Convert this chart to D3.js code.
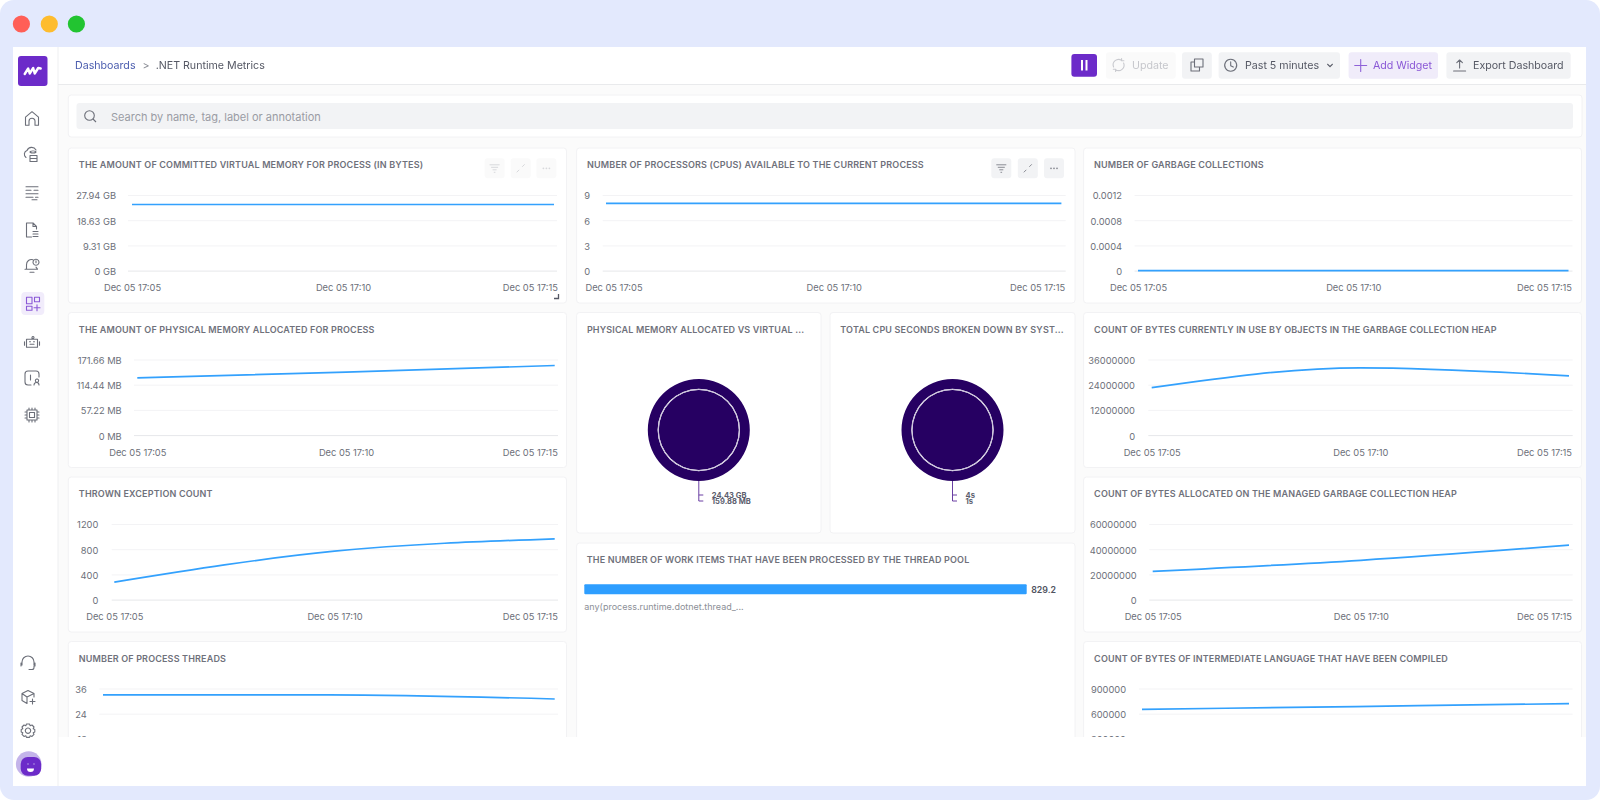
<!DOCTYPE html>
<html>
<head>
<meta charset="utf-8">
<script src="https://cdnjs.cloudflare.com/ajax/libs/d3/7.8.5/d3.min.js"></script>
<style>
html, body { margin: 0; padding: 0; background: #fff; }
svg { display: block; filter: blur(0.4px); }
text { font-family: Inter, "Noto Sans", sans-serif; }
.title { font-size: 9px; font-weight: 600; fill: #6f717b; letter-spacing: 0.16px; }
.tick text { font-size: 9.3px; fill: #6c6f79; }
</style>
</head>
<body>
<div id="chart"></div>
<script>
// values
var times = [new Date(2023, 11, 5, 17, 5), new Date(2023, 11, 5, 17, 10), new Date(2023, 11, 5, 17, 15)];

var virtualMemTicks = [0, 9.31, 18.63, 27.94];
var virtualMemValues = [24.43, 24.43, 24.43];
var cpuTicks = [0, 3, 6, 9];
var cpuValues = [8, 8, 8];
var gcCountTicks = [0, 0.0004, 0.0008, 0.0012];
var gcCountValues = [0, 0, 0];
var physMemTicks = [0, 57.22, 114.44, 171.66];
var physMemValues = [130, 143, 158];
var exceptionTicks = [0, 400, 800, 1200];
var exceptionValues = [277, 768, 965];
var threadTicks = [12, 24, 36];
var threadValues = [33, 33, 31];
var heapUseTicks = [0, 12000000, 24000000, 36000000];
var heapUseValues = [22600000, 32000000, 28200000];
var heapAllocTicks = [0, 20000000, 40000000, 60000000];
var heapAllocValues = [22400000, 31200000, 43200000];
var ilTicks = [300000, 600000, 900000];
var ilValues = [652000, 685000, 720000];

var memPieValues = [24.43, 159.88];
var memPieLabels = ["24.43 GB", "159.88 MB"];
var cpuPieValues = [4, 1];
var cpuPieLabels = ["4s", "1s"];

var threadPoolValue = 829.2;
var threadPoolLabel = "any(process.runtime.dotnet.thread_...";

var width = 1600, height = 802;
var blue = "#33a1fd", purple = "#6c2bc9", iconGrey = "#6c6f79";

var svg = d3.select("#chart").append("svg").attr("width", width).attr("height", height);

// window frame
svg.append("rect").attr("width", width).attr("height", 800).attr("rx", 14).attr("fill", "#e3e9fd");
svg.append("rect").attr("x", 13).attr("y", 47).attr("width", 1573).attr("height", 739).attr("fill", "#fff");
[[21.4, "#ff5f57"], [49.3, "#febc2e"], [76.4, "#22c431"]].forEach(function(d) {
    svg.append("circle").attr("cx", d[0]).attr("cy", 24).attr("r", 8.6).attr("fill", d[1]);
});

var defs = svg.append("defs");
defs.append("clipPath").attr("id", "content-clip").append("rect")
    .attr("x", 58).attr("y", 85).attr("width", 1528).attr("height", 652);

var content = svg.append("g").attr("clip-path", "url(#content-clip)");
content.append("rect").attr("x", 58).attr("y", 85).attr("width", 1528).attr("height", 652).attr("fill", "#fbfbfb");

svg.append("line").attr("x1", 58).attr("x2", 58).attr("y1", 47).attr("y2", 786).attr("stroke", "#eeeff1");
svg.append("line").attr("x1", 58).attr("x2", 1586).attr("y1", 84.5).attr("y2", 84.5).attr("stroke", "#e9eaec");

function card(x0, y0, x1, y1) {
    content.append("rect").attr("x", x0).attr("y", y0).attr("width", x1 - x0).attr("height", y1 - y0)
        .attr("rx", 3).attr("fill", "#fff").attr("stroke", "#f2f2f4");
}

function icon(x, y, d, color, sw) {
    return svg.append("path").attr("transform", "translate(" + x + "," + y + ")").attr("d", d)
        .attr("fill", "none").attr("stroke", color || iconGrey).attr("stroke-width", sw || 1.1)
        .attr("stroke-linecap", "round").attr("stroke-linejoin", "round");
}

function headerText(x, y, str, color, weight) {
    svg.append("text").attr("x", x).attr("y", y).attr("dy", "0.35em").attr("font-size", 10.65)
        .attr("font-weight", weight || 400).attr("fill", color).text(str);
}

// header
headerText(75, 65.7, "Dashboards", "#4a5cae");
headerText(142.5, 65.7, ">", "#8a8d95");
headerText(155.7, 65.7, ".NET Runtime Metrics", "#555864");

function button(x0, x1, y0, y1, fill) {
    svg.append("rect").attr("x", x0).attr("y", y0).attr("width", x1 - x0).attr("height", y1 - y0)
        .attr("rx", 3).attr("fill", fill);
}
button(1071.4, 1097, 54, 76.7, purple);
svg.append("rect").attr("x", 1081).attr("y", 60).attr("width", 2).attr("height", 10.5).attr("fill", "#fff");
svg.append("rect").attr("x", 1085.5).attr("y", 60).attr("width", 2).attr("height", 10.5).attr("fill", "#fff");
button(1106, 1175.7, 52.3, 78.7, "#fafafa");
icon(1118.6, 65, "M-5 2A5.4 5.4 0 0 1 3 -4.6M5 -2A5.4 5.4 0 0 1 -3 4.6M3 -6.5V-4.2H5.3M-3 6.5V4.2H-5.3", "#c9cacf");
headerText(1132, 65.3, "Update", "#c6c7cc");
button(1182, 1211.8, 52.3, 78.7, "#f2f3f5");
icon(1197, 65, "M-2.5 -6H6V2H-2.5ZM-2.5 -3H-6V6H2.5V2", iconGrey);
button(1218.6, 1340, 52.3, 78.7, "#f2f3f5");
icon(1230.7, 65.3, "M0 -6A6 6 0 1 1 -0.01 -6ZM0 -3.4V0.4L2.6 1.8", iconGrey);
headerText(1245, 65.3, "Past 5 minutes", "#555864");
icon(1330, 65.5, "M-2.3 -1.2L0 1.2L2.3 -1.2", "#555864", 1.2);
button(1348.6, 1438, 52.3, 78.7, "#f0ecfa");
icon(1360.7, 65.5, "M-6 0H6M0 -6V6", "#8f62d8");
headerText(1372.9, 65.3, "Add Widget", "#8a58d6");
button(1446.4, 1570.7, 52.3, 78.7, "#f2f3f5");
icon(1459.6, 65, "M0 3V-5M-2.8 -2.3L0 -5L2.8 -2.3M-6 6H6", iconGrey);
headerText(1473, 65.3, "Export Dashboard", "#555864");

// search box
card(68.3, 95, 1582, 137);
content.append("rect").attr("x", 76.5).attr("y", 103).attr("width", 1496.5).attr("height", 26).attr("rx", 3).attr("fill", "#f2f3f5");
content.append("circle").attr("cx", 89.5).attr("cy", 115.5).attr("r", 4.8).attr("fill", "none").attr("stroke", iconGrey).attr("stroke-width", 1.1);
content.append("line").attr("x1", 93).attr("y1", 119).attr("x2", 96).attr("y2", 122).attr("stroke", iconGrey).attr("stroke-width", 1.1);
content.append("text").attr("x", 111).attr("y", 116.7).attr("dy", "0.35em").attr("font-size", 11).attr("fill", "#9a9ca4")
    .text("Search by name, tag, label or annotation");

function lineChart(o) {
    card(o.x0, o.top, o.x1, o.top + (o.h || 155));
    content.append("text").attr("class", "title").attr("x", o.x0 + 10.5).attr("y", o.top + 17).attr("dy", "0.35em").text(o.title);

    var g = content.append("g");
    var x = d3.scaleTime().domain([times[0], times[2]]).range([o.dataLeft, o.dataRight]);
    var y = d3.scaleLinear().domain([0, o.max]).range([o.top + 122.6, o.top + 47]);

    var yAxis = d3.axisLeft(y).tickValues(o.ticks).tickSize(-(o.gridRight - o.gridLeft))
        .tickPadding(o.gridLeft - o.labelRight).tickFormat(o.fmt);
    var ay = g.append("g").attr("transform", "translate(" + o.gridLeft + ",0)").call(yAxis);
    ay.select(".domain").remove();
    ay.selectAll(".tick line").attr("stroke", function(d) { return d === 0 ? "#e6e7ea" : "#f3f3f5"; });
    ay.selectAll(".tick text").attr("dy", "0.42em");

    if (!o.noXAxis) {
        var xAxis = d3.axisBottom(x).tickValues(times).tickSize(0).tickFormat(d3.timeFormat("%b %d %H:%M"));
        var ax = g.append("g").attr("transform", "translate(0," + (o.top + 140) + ")").call(xAxis);
        ax.select(".domain").remove();
        ax.selectAll("text").attr("y", 0).attr("dy", "0.35em");
        ax.selectAll("text").filter(function(d, i) { return i === 0; }).attr("dx", o.firstShift || 0);
        ax.selectAll("text").filter(function(d, i) { return i === 2; }).attr("text-anchor", "end").attr("dx", o.lastRight - o.dataRight);
    }

    var line = d3.line().x(function(d, i) { return x(times[i]); }).y(function(d) { return y(d); }).curve(d3.curveMonotoneX);
    g.append("path").attr("d", line(o.values)).attr("fill", "none").attr("stroke", blue).attr("stroke-width", 1.7);
}

function fixedFmt(unit) { return function(d) { return d + " " + unit; }; }
var plain = function(d) { return String(d); };

lineChart({ x0: 68.3, x1: 566.5, top: 148, title: "THE AMOUNT OF COMMITTED VIRTUAL MEMORY FOR PROCESS (IN BYTES)",
    ticks: virtualMemTicks, max: 27.94, values: virtualMemValues, fmt: fixedFmt("GB"), lastRight: 557.3,
    gridLeft: 128, gridRight: 557, dataLeft: 132, dataRight: 554, labelRight: 116 });
lineChart({ x0: 576.6, x1: 1075, top: 148, title: "NUMBER OF PROCESSORS (CPUS) AVAILABLE TO THE CURRENT PROCESS",
    ticks: cpuTicks, max: 9, values: cpuValues, fmt: plain, firstShift: 7.5, lastRight: 1064.6,
    gridLeft: 602.7, gridRight: 1065.7, dataLeft: 606, dataRight: 1061.4, labelRight: 590 });
lineChart({ x0: 1083.6, x1: 1581.5, top: 148, title: "NUMBER OF GARBAGE COLLECTIONS",
    ticks: gcCountTicks, max: 0.0012, values: gcCountValues, fmt: plain, lastRight: 1571.5,
    gridLeft: 1134.6, gridRight: 1572.5, dataLeft: 1138, dataRight: 1568.5, labelRight: 1122 });
lineChart({ x0: 68.3, x1: 566.5, top: 312.5, title: "THE AMOUNT OF PHYSICAL MEMORY ALLOCATED FOR PROCESS",
    ticks: physMemTicks, max: 171.66, values: physMemValues, fmt: fixedFmt("MB"), lastRight: 557.3,
    gridLeft: 134, gridRight: 558, dataLeft: 137.3, dataRight: 554.7, labelRight: 121.7 });
lineChart({ x0: 68.3, x1: 566.5, top: 477, title: "THROWN EXCEPTION COUNT",
    ticks: exceptionTicks, max: 1200, values: exceptionValues, fmt: plain, lastRight: 557.3,
    gridLeft: 111.7, gridRight: 558, dataLeft: 114.3, dataRight: 554.7, labelRight: 98.3 });
lineChart({ x0: 68.3, x1: 566.5, top: 641.5, title: "NUMBER OF PROCESS THREADS", noXAxis: true,
    ticks: threadTicks, max: 36, values: threadValues, fmt: plain,
    gridLeft: 99.3, gridRight: 558, dataLeft: 103, dataRight: 554.7, labelRight: 86.8 });
lineChart({ x0: 1083.6, x1: 1581.5, top: 312.5, title: "COUNT OF BYTES CURRENTLY IN USE BY OBJECTS IN THE GARBAGE COLLECTION HEAP",
    ticks: heapUseTicks, max: 36000000, values: heapUseValues, fmt: plain, lastRight: 1571.5,
    gridLeft: 1148.3, gridRight: 1572.7, dataLeft: 1151.7, dataRight: 1569, labelRight: 1135 });
lineChart({ x0: 1083.6, x1: 1581.5, top: 477, title: "COUNT OF BYTES ALLOCATED ON THE MANAGED GARBAGE COLLECTION HEAP",
    ticks: heapAllocTicks, max: 60000000, values: heapAllocValues, fmt: plain, lastRight: 1571.5,
    gridLeft: 1149.3, gridRight: 1572.7, dataLeft: 1152.7, dataRight: 1569, labelRight: 1136.7 });
lineChart({ x0: 1083.6, x1: 1581.5, top: 641.5, title: "COUNT OF BYTES OF INTERMEDIATE LANGUAGE THAT HAVE BEEN COMPILED", noXAxis: true,
    ticks: ilTicks, max: 900000, values: ilValues, fmt: plain,
    gridLeft: 1139, gridRight: 1572.6, dataLeft: 1142, dataRight: 1569, labelRight: 1126 });

// card toolbars
function cardTools(xs, fill, color) {
    xs.forEach(function(cx, i) {
        content.append("rect").attr("x", cx - 10).attr("y", 158.3).attr("width", 20).attr("height", 20).attr("rx", 3).attr("fill", fill);
        var p = ["M-5 -3.5H5M-3.5 -1H3.5M-2 1.5H2M-0.8 4H0.8", "M1.5 -1.5L4 -4M-1.5 1.5L-4 4", ""][i];
        if (p) content.append("path").attr("transform", "translate(" + cx + ",168.3)").attr("d", p).attr("fill", "none").attr("stroke", color);
        else [-3, 0, 3].forEach(function(dx) {
            content.append("circle").attr("cx", cx + dx).attr("cy", 168.3).attr("r", 0.9).attr("fill", color);
        });
    });
}
cardTools([494.6, 520.7, 546.4], "#fafafa", "#d8d9dc");
cardTools([1001.3, 1027.8, 1054], "#f2f3f5", "#8a8c94");
content.append("path").attr("d", "M554 298.5H558.5V294").attr("fill", "none").attr("stroke", "#555864").attr("stroke-width", 1.3);

// pies
function ringChart(x0, x1, title, values, labels) {
    card(x0, 312.5, x1, 533);
    content.append("text").attr("class", "title").attr("x", x0 + 10.3).attr("y", 329.5).attr("dy", "0.35em").text(title);
    var cx = (x0 + x1) / 2, cy = 430;
    var g = content.append("g").attr("transform", "translate(" + cx + "," + cy + ")");
    var pie = d3.pie().sort(null);
    var radii = [[41.2, 51], [0, 40]];
    values.forEach(function(v, i) {
        var arc = d3.arc().innerRadius(radii[i][0]).outerRadius(radii[i][1]);
        g.selectAll(".ring" + i).data(pie([v])).enter().append("path").attr("class", "ring" + i)
            .attr("d", arc).attr("fill", "#260062");
    });
    g.append("circle").attr("r", 40.6).attr("fill", "none").attr("stroke", "#c9c1da").attr("stroke-width", 1);
    g.append("path").attr("d", "M0 51V71M0 65H4.5M0 71H4.5").attr("fill", "none").attr("stroke", "#6a3fa3").attr("stroke-width", 1);
    labels.forEach(function(t, i) {
        g.append("text").attr("x", 13).attr("y", 65.8 + i * 6).attr("dy", "0.35em").attr("font-size", 7.6)
            .attr("font-weight", 700).attr("fill", "#5c5e6e").text(t);
    });
}
ringChart(576.6, 821, "PHYSICAL MEMORY ALLOCATED VS VIRTUAL ...", memPieValues, memPieLabels);
ringChart(830, 1075, "TOTAL CPU SECONDS BROKEN DOWN BY SYST...", cpuPieValues, cpuPieLabels);

// thread pool bar
card(576.6, 543, 1075, 800);
content.append("text").attr("class", "title").attr("x", 586.7).attr("y", 560).attr("dy", "0.35em")
    .text("THE NUMBER OF WORK ITEMS THAT HAVE BEEN PROCESSED BY THE THREAD POOL");
var barX = d3.scaleLinear().domain([0, threadPoolValue]).range([584.3, 1026.7]);
var barY = d3.scaleBand().domain([threadPoolLabel]).range([584.3, 594.3]);
content.selectAll(".bar").data([threadPoolValue]).enter().append("rect").attr("class", "bar")
    .attr("x", barX(0)).attr("y", barY(threadPoolLabel)).attr("height", barY.bandwidth())
    .attr("width", function(d) { return barX(d) - barX(0); }).attr("rx", 1).attr("fill", "#2e9eff");
content.append("text").attr("x", barX(threadPoolValue) + 4.5).attr("y", 589.5).attr("dy", "0.35em").attr("font-size", 8.8)
    .attr("font-weight", 600).attr("fill", "#50535f").text(d3.format(".1f")(threadPoolValue));
content.append("text").attr("x", 584.3).attr("y", 607).attr("dy", "0.35em").attr("font-size", 9)
    .attr("fill", "#8c8f97").text(threadPoolLabel);

// sidebar
svg.append("rect").attr("x", 18).attr("y", 56).attr("width", 29.5).attr("height", 30).attr("rx", 3).attr("fill", purple);
icon(32.7, 71, "M-8 3L-4.5 -2.5L-3 2.5L0.5 -3L2 2.5L5.5 -3L8 -2.5", "#fff", 2.4);

icon(32, 118.7, "M-6.5 -1.5L0 -7L6.5 -1.5V6.5H3V2.5A3 3 0 0 0 -3 2.5V6.5H-6.5Z");
icon(32, 155.5, "M-6 2A4 4 0 0 1 -5 -5A5 5 0 0 1 4 -5.5M-2 0H5V6H-2ZM-2 3H5M1 -2.5A3 1 0 1 1 1.01 -2.5");
icon(32, 192.7, "M-6 -6H6M-6 -2.5H-1M2 -2.5H6M-6 1H6M-6 4.5H1M3.5 4.5H6M0 7H5");
icon(32, 230, "M-5.5 -7H1L4.5 -3.5V-1M-5.5 -7V7H-0.5M1 -7V-3.5H4.5M1 1.5H6M1 4H6M1 6.5H6");
icon(32, 265.7, "M-5.5 3.5V-1A5 5 0 0 1 1 -6M-7 3.5H5.5L4 1.5M-2 6.5H2M4 -6.5A3 3 0 1 1 3.99 -6.5M4 -5V-3");
svg.append("rect").attr("x", 21.3).attr("y", 292).attr("width", 23).attr("height", 23).attr("rx", 4).attr("fill", "#f1ecfb");
icon(33, 303.7, "M-6.5 -6.5H-1V0H-6.5ZM1.5 -6.5H6.5V-2H1.5ZM-6.5 2.5H-1V6.5H-6.5ZM4 1V7M1 4H7", "#8a58d6");
icon(32, 342.7, "M-5.5 -3.5H5.5V4.5H-5.5ZM0 -3.5V-5M-7.5 -1V2.5M7.5 -1V2.5M-2 1.5H2M-2.5 -1H-1.5M1.5 -1H2.5M1 -6.2A1 1 0 1 1 0.99 -6.2");
icon(32, 378, "M-4 -7H4A3 3 0 0 1 7 -4V-1M-4 -7A3 3 0 0 0 -7 -4V4A3 3 0 0 0 -4 7H-1M-1.5 -3V2M5 1A1.6 1.6 0 1 1 4.99 1M2 7A2.5 2.5 0 0 1 7 7");
icon(32, 415, "M-5 -5H5V5H-5ZM-2.5 -2.5H2.5V2.5H-2.5ZM-3 -7V-5M0 -7V-5M3 -7V-5M-3 5V7M0 5V7M3 5V7M-7 -3H-5M-7 0H-5M-7 3H-5M5 -3H7M5 0H7M5 3H7");
icon(28, 663, "M-6 2V-1A6 6 0 0 1 6 -1V2M-7 0V3M7 0V3M6 3V4.5A2 2 0 0 1 4 6.5H1");
icon(28, 697, "M-6 -3.5L0 -6.5L6 -3.5V0M-6 -3.5V3.5L-1 6.5V0L-6 -3.5M-1 0L6 -3.5M4.5 2V7M2 4.5H7");
icon(28, 730.7, "M0 -2.7A2.7 2.7 0 1 1 -0.01 -2.7M-1.5 -6.7H1.5L2.2 -5L4 -5.7L6 -3.7L5.2 -2L6.8 -1.3V1.3L5.2 2L6 3.7L4 5.7L2.2 5L1.5 6.7H-1.5L-2.2 5L-4 5.7L-6 3.7L-5.2 2L-6.8 1.3V-1.3L-5.2 -2L-6 -3.7L-4 -5.7L-2.2 -5Z");
svg.append("circle").attr("cx", 28.7).attr("cy", 764).attr("r", 12.8).attr("fill", "#c4b4ea");
svg.append("rect").attr("x", 20.7).attr("y", 757).attr("width", 20.5).attr("height", 18.7).attr("rx", 7).attr("fill", purple);
svg.append("path").attr("d", "M27 768.5H34A3.5 3.5 0 0 1 27 768.5").attr("fill", "#fff");
svg.append("circle").attr("cx", 28).attr("cy", 764).attr("r", 0.7).attr("fill", "#c4b4ea");
svg.append("circle").attr("cx", 34).attr("cy", 764).attr("r", 0.7).attr("fill", "#c4b4ea");
</script>
</body>
</html>
